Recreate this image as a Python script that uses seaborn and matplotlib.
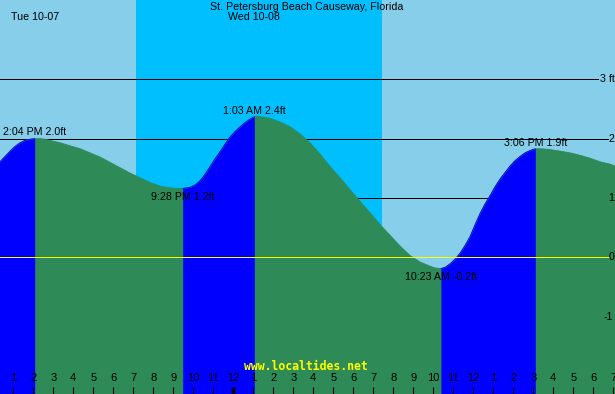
import matplotlib
matplotlib.use("Agg")
import matplotlib.pyplot as plt
import pandas as pd
import seaborn as sns

# ---------------- data ----------------
title = "St. Petersburg Beach Causeway, Florida"
day_labels = ["Tue 10-07", "Wed 10-08"]
site = "www.localtides.net"

# hours since Tue 10-07 00:00, tide height in feet
curve_hours = [12.28, 12.84, 13.09, 13.34, 13.59, 13.84, 14.07, 14.34, 14.59, 14.84,
               15.34, 15.84, 16.34, 16.84, 17.34, 17.84, 18.34, 18.84, 19.34, 19.84,
               20.34, 20.84, 21.09, 21.47, 21.84, 22.09, 22.34, 22.59, 22.84, 23.09,
               23.34, 23.59, 23.84, 24.09, 24.34, 24.59, 24.84, 25.05, 25.34, 25.59,
               25.84, 26.34, 26.84, 27.34, 27.84, 28.34, 28.84, 29.34, 29.84, 30.34,
               30.84, 31.34, 31.84, 32.34, 32.84, 33.34, 33.84, 34.09, 34.38, 34.59,
               34.84, 35.09, 35.34, 35.59, 35.84, 36.09, 36.34, 36.59, 36.84, 37.09,
               37.34, 37.59, 37.84, 38.09, 38.34, 38.59, 38.84, 39.10, 39.34, 39.74,
               40.34, 40.84, 41.34, 41.84, 42.34, 42.84, 43.14]
curve_feet = [1.59, 1.79, 1.87, 1.93, 1.97, 1.99, 2.00, 2.00, 1.99, 1.97,
              1.93, 1.88, 1.83, 1.76, 1.69, 1.60, 1.51, 1.42, 1.34, 1.26,
              1.20, 1.17, 1.165, 1.16, 1.18, 1.22, 1.29, 1.40, 1.53, 1.66,
              1.78, 1.91, 2.03, 2.12, 2.20, 2.27, 2.33, 2.37, 2.37, 2.36,
              2.34, 2.28, 2.20, 2.08, 1.93, 1.74, 1.53, 1.34, 1.14, 0.94,
              0.75, 0.55, 0.37, 0.19, 0.03, -0.08, -0.15, -0.18, -0.19, -0.17,
              -0.11, -0.03, 0.07, 0.20, 0.35, 0.55, 0.74, 0.90, 1.04, 1.19,
              1.32, 1.43, 1.54, 1.63, 1.70, 1.76, 1.80, 1.83, 1.83, 1.82,
              1.79, 1.76, 1.72, 1.67, 1.61, 1.57, 1.53]

extreme_hours = [14.07, 21.47, 25.05, 34.38, 39.10]
extreme_feet = [2.00, 1.16, 2.37, -0.19, 1.83]
extreme_kind = ["high", "low", "high", "low", "high"]
extreme_labels = ["2:04 PM 2.0ft", "9:28 PM 1.2ft", "1:03 AM 2.4ft",
                  "10:23 AM -0.2ft", "3:06 PM 1.9ft"]

night_start, night_end = 19.15, 31.43   # sunset Tue, sunrise Wed

tick_hours = list(range(13, 44))
tick_labels = ["1", "2", "3", "4", "5", "6", "7", "8", "9", "10", "11", "12",
               "1", "2", "3", "4", "5", "6", "7", "8", "9", "10", "11", "12",
               "1", "2", "3", "4", "5", "6", "7"]
midnight_hour = 24

level_feet = [3, 2, 1, 0, -1]
level_labels = ["3 ft", "2", "1", "0", "-1"]

# ---------------- style ----------------
sns.set_theme(style="white")
plt.rcParams["font.family"] = ["Liberation Sans", "DejaVu Sans"]

DAY = "#87CEEB"
NIGHT = "#00BFFF"
FALL = "#2E8B57"
RISE = "#0000FF"
YEL = "#FFFF00"
FS = 7.7

X0, X1 = 12.335, 43.085
Y0, Y1 = -2.304, 4.337

fig = plt.figure(figsize=(6.15, 3.94), dpi=100)
ax = fig.add_axes([0, 0, 1, 1])
ax.set_xlim(X0, X1)
ax.set_ylim(Y0, Y1)
ax.set_facecolor(DAY)
ax.set_axisbelow(False)
for s in ax.spines.values():
    s.set_visible(False)

ax.axvspan(night_start, night_end, color=NIGHT, lw=0, zorder=0)

# reference lines (behind the tide)
line_ends = {3: 42.25, 2: 42.72, 1: 42.72}
for lv in [3, 2, 1]:
    ax.plot([X0 - 1, line_ends[lv]], [lv, lv], color="black", lw=0.72,
            zorder=1, antialiased=False)

# tide: whole curve in falling colour, rising stretches on top in blue
df = pd.DataFrame({"hour": curve_hours, "feet": curve_feet})
ax.fill_between(df.hour, df.feet, Y0 - 1, color=FALL, lw=0, zorder=3)
sns.lineplot(data=df, x="hour", y="feet", color=FALL, lw=0.6,
             estimator=None, sort=False, ax=ax, zorder=3, legend=False)

bounds = [X0 - 1] + extreme_hours + [X1 + 1]
for i in range(len(bounds) - 1):
    rising = (extreme_kind[i] == "high") if i < len(extreme_kind) else (extreme_kind[-1] == "low")
    if not rising:
        continue
    sub = df[(df.hour >= bounds[i]) & (df.hour <= bounds[i + 1])]
    ax.fill_between(sub.hour, sub.feet, Y0 - 1, color=RISE, lw=0, zorder=3.5)
    sns.lineplot(data=sub, x="hour", y="feet", color=RISE, lw=0.6,
                 estimator=None, sort=False, ax=ax, zorder=3.5, legend=False)

# zero line on top
ax.plot([X0 - 1, 42.77], [0, 0], color=YEL, lw=0.72, zorder=4, antialiased=False)

# right-side level labels
label_x = {3: 42.34, 2: 42.74, 1: 42.76, 0: 42.76, -1: 42.49}
for lv, lab in zip(level_feet, level_labels):
    ax.text(label_x[lv], lv, lab, ha="left", va="center", fontsize=FS,
            color="black", zorder=6)

# extreme labels
for h, f, k, lab in zip(extreme_hours, extreme_feet, extreme_kind, extreme_labels):
    dy = 2.3 if k == "high" else -8.0
    ax.annotate(lab, (h, f), xytext=(0, dy), textcoords="offset points",
                ha="center", va="baseline", fontsize=FS, color="black", zorder=6)

# titles
ax.text(307 / 615, 1 - 6.5 / 394, title, transform=ax.transAxes, ha="center",
        va="center", fontsize=FS, color="black", zorder=6)
ax.text(11 / 615, 1 - 17.5 / 394, day_labels[0], transform=ax.transAxes,
        ha="left", va="center", fontsize=FS, color="black", zorder=6)
ax.text(228 / 615, 1 - 17.5 / 394, day_labels[1], transform=ax.transAxes,
        ha="left", va="center", fontsize=FS, color="black", zorder=6)

# site text
ax.text(306 / 615, 1 - 366.5 / 394, site, transform=ax.transAxes, ha="center",
        va="center", fontsize=8.3, color=YEL, fontweight="bold",
        family="DejaVu Sans Mono", zorder=6)

# hour ticks
ax.set_xticks(tick_hours)
ax.set_xticklabels(tick_labels)
ax.tick_params(axis="x", direction="in", length=5, width=0.8, color="black",
               pad=-15, labelsize=8, labelcolor="black", bottom=True)
for t, h in zip(ax.xaxis.get_major_ticks(), tick_hours):
    t.gridline.set_visible(False)
    if h == midnight_hour:
        t.tick1line.set_markeredgewidth(2.5)
ax.xaxis.set_zorder(8)
ax.set_yticks([])
ax.set_xlabel("")
ax.set_ylabel("")

fig.savefig("out.png", dpi=100)
